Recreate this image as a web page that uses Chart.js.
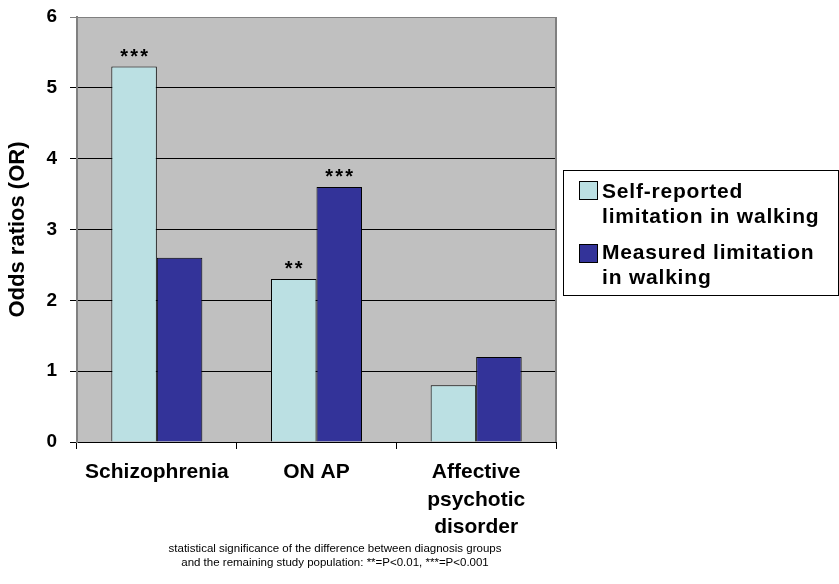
<!DOCTYPE html>
<html>
<head>
<meta charset="utf-8">
<script src="https://cdn.jsdelivr.net/npm/chart.js@4.4.0/dist/chart.umd.min.js"></script>
<style>
  html, body { margin: 0; padding: 0; background: #ffffff; }
  #wrap { width: 839px; height: 584px; position: relative; }
</style>
</head>
<body>
<div id="wrap"><canvas id="c" width="839" height="584"></canvas></div>
<script>
const categories = [["Schizophrenia"], ["ON AP"], ["Affective", "psychotic", "disorder"]];
const seriesNames = ["Self-reported limitation in walking", "Measured limitation in walking"];
const legendLines = [["Self-reported", "limitation in walking"], ["Measured limitation", "in walking"]];
const selfReported = [5.3, 2.3, 0.8];
const measured = [2.6, 3.6, 1.2];
const starsSelf = ["***", "**", ""];
const starsMeasured = ["", "***", ""];
const yTicks = [0, 1, 2, 3, 4, 5, 6];
const footnote = ["statistical significance of the difference between diagnosis groups",
                  "and the remaining study population: **=P<0.01, ***=P<0.001"];
const colors = ["#BBE0E3", "#333399"];

const FONT = '"Liberation Sans", Arial, Helvetica, sans-serif';

const plotDecor = {
  id: 'plotDecor',
  beforeDraw(chart) {
    const {ctx, chartArea: a} = chart;
    ctx.save();
    ctx.fillStyle = '#C0C0C0';
    ctx.fillRect(a.left, a.top, a.right - a.left, a.bottom - a.top);
    ctx.restore();
  },
  beforeDatasetsDraw(chart) {
    const {ctx, chartArea: a} = chart;
    ctx.save();
    ctx.strokeStyle = '#808080';
    ctx.lineWidth = 2;
    ctx.beginPath();
    ctx.moveTo(a.right, a.top);
    ctx.lineTo(a.right, a.bottom);
    ctx.stroke();
    ctx.restore();
  },
  afterDatasetsDraw(chart) {
    const {ctx} = chart;
    const starSets = [starsSelf, starsMeasured];
    ctx.save();
    ctx.fillStyle = '#000';
    ctx.font = 'bold 20px ' + FONT;
    ctx.textAlign = 'center';
    ctx.textBaseline = 'alphabetic';
    starSets.forEach((stars, di) => {
      const meta = chart.getDatasetMeta(di);
      stars.forEach((s, j) => {
        if (!s) return;
        const el = meta.data[j];
        const n = s.length;
        const sp = 10;
        for (let k = 0; k < n; k++) {
          const x = el.x + (k - (n - 1) / 2) * sp;
          ctx.fillText('*', x, el.y - 15 + 11);
        }
      });
    });
    ctx.restore();
  },
  afterDraw(chart) {
    const {ctx} = chart;
    ctx.save();
    // legend
    const bx = 563.5, by = 170.5, bw = 275, bh = 125;
    ctx.strokeStyle = '#000';
    ctx.lineWidth = 1;
    ctx.fillStyle = '#fff';
    ctx.fillRect(bx, by, bw, bh);
    ctx.strokeRect(bx, by, bw, bh);
    const swY = [181, 244];
    const baseY = [[198, 223], [259, 284]];
    ctx.font = 'bold 21px ' + FONT;
    try { ctx.letterSpacing = '0.8px'; } catch (e) {}
    ctx.textAlign = 'left';
    ctx.textBaseline = 'alphabetic';
    chart.data.datasets.forEach((ds, i) => {
      ctx.fillStyle = ds.backgroundColor;
      ctx.fillRect(579.5, swY[i] + 0.5, 18, 18);
      ctx.strokeStyle = '#000';
      ctx.strokeRect(579.5, swY[i] + 0.5, 18, 18);
      ctx.fillStyle = '#000';
      legendLines[i].forEach((t, k) => ctx.fillText(t, 602, baseY[i][k]));
    });
    try { ctx.letterSpacing = '0px'; } catch (e) {}
    // footnote
    ctx.font = '11.5px ' + FONT;
    ctx.textAlign = 'center';
    ctx.textBaseline = 'middle';
    ctx.fillStyle = '#000';
    ctx.fillText(footnote[0], 335, 549);
    ctx.fillText(footnote[1], 335, 563);
    ctx.restore();
  }
};

new Chart(document.getElementById('c'), {
  type: 'bar',
  data: {
    labels: categories,
    datasets: [
      { label: seriesNames[0], data: selfReported, backgroundColor: colors[0], borderColor: '#000', borderWidth: 1 },
      { label: seriesNames[1], data: measured, backgroundColor: colors[1], borderColor: '#000', borderWidth: 1 }
    ]
  },
  options: {
    responsive: false,
    animation: false,
    devicePixelRatio: 1,
    layout: { padding: { left: 0, right: 283, top: 17, bottom: 0 } },
    plugins: { legend: { display: false }, tooltip: { enabled: false } },
    datasets: { bar: { categoryPercentage: 0.57, barPercentage: 1.0 } },
    scales: {
      x: {
        offset: true,
        grid: { offset: true, drawOnChartArea: false, drawTicks: true, tickLength: 7, color: '#000' },
        border: { color: '#000', width: 1 },
        ticks: { color: '#000', font: { family: FONT, size: 21, weight: 'bold', lineHeight: 1.3 }, padding: 10, maxRotation: 0, autoSkip: false },
        afterFit(s) { s.height = 142; s.paddingLeft = 0; s.paddingRight = 0; }
      },
      y: {
        min: 0, max: 6,
        afterBuildTicks(s) { s.ticks = yTicks.map(v => ({ value: v })); },
        grid: { color: ctx => (ctx.tick && ctx.tick.value === 6) ? '#808080' : '#000', tickLength: 7, lineWidth: 1 },
        border: { color: '#808080', width: 2 },
        ticks: { color: '#000', font: { family: FONT, size: 19, weight: 'bold' }, padding: 13 },
        title: { display: true, text: 'Odds ratios (OR)', color: '#000', font: { family: FONT, size: 22, weight: 'bold' }, padding: { top: 5, bottom: 0 } },
        afterFit(s) { s.width = 77; s.paddingTop = 0; s.paddingBottom = 0; }
      }
    }
  },
  plugins: [plotDecor]
});
</script>
</body>
</html>
